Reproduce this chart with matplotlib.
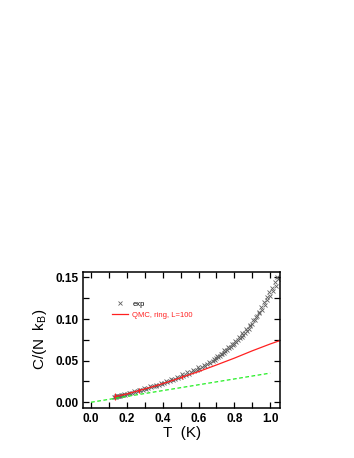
import numpy as np
import matplotlib
matplotlib.use('Agg')
import matplotlib.pyplot as plt
from matplotlib.ticker import MultipleLocator, FormatStrFormatter

plt.rcParams['font.family'] = ['Liberation Sans', 'DejaVu Sans']

T_exp = [0.130, 0.135, 0.140, 0.145, 0.150, 0.155, 0.160, 0.170, 0.180, 0.190,
         0.200, 0.215, 0.230, 0.245, 0.260, 0.275, 0.290, 0.305, 0.320, 0.335,
         0.350, 0.365, 0.380, 0.395, 0.410, 0.425, 0.440, 0.455, 0.470, 0.485,
         0.500, 0.515, 0.530, 0.545, 0.560, 0.575, 0.590, 0.605, 0.620, 0.635,
         0.650, 0.665, 0.680, 0.690, 0.700, 0.710, 0.720, 0.730, 0.740, 0.750,
         0.760, 0.770, 0.780, 0.790, 0.800, 0.810, 0.820, 0.830, 0.840, 0.850,
         0.860, 0.870, 0.880, 0.890, 0.900, 0.915, 0.925, 0.940, 0.955, 0.970,
         0.985, 1.000, 1.015, 1.030, 1.045,
         # second, scattered run
         0.138, 0.148, 0.165, 0.185, 0.210, 0.240, 0.268, 0.298, 0.330, 0.360,
         0.390, 0.420, 0.448, 0.478, 0.508, 0.538, 0.568, 0.598, 0.628, 0.658,
         0.685, 0.705, 0.725, 0.745, 0.765, 0.785, 0.805, 0.825, 0.845, 0.865,
         0.885, 0.905, 0.920, 0.935, 0.950, 0.965, 0.980, 0.995, 1.010, 1.025,
         1.040]
C_exp = [0.0062, 0.0068, 0.0066, 0.0072, 0.0074, 0.0071, 0.0078, 0.0082, 0.0088, 0.0093,
         0.0099, 0.0107, 0.0116, 0.0124, 0.0134, 0.0142, 0.0152, 0.0160, 0.0171, 0.0180,
         0.0192, 0.0201, 0.0213, 0.0222, 0.0236, 0.0246, 0.0258, 0.0268, 0.0282, 0.0293,
         0.0306, 0.0318, 0.0331, 0.0345, 0.0358, 0.0372, 0.0387, 0.0402, 0.0420, 0.0437,
         0.0456, 0.0477, 0.0498, 0.0512, 0.0530, 0.0545, 0.0560, 0.0578, 0.0594, 0.0612,
         0.0630, 0.0648, 0.0665, 0.0686, 0.0705, 0.0724, 0.0745, 0.0768, 0.0790, 0.0812,
         0.0836, 0.0860, 0.0885, 0.0912, 0.0945, 0.0990, 0.1040, 0.1070, 0.1110, 0.1170,
         0.1225, 0.1280, 0.1340, 0.1400, 0.1480,
         0.0075, 0.0080, 0.0085, 0.0096, 0.0115, 0.0135, 0.0150, 0.0172, 0.0190, 0.0212,
         0.0235, 0.0260, 0.0285, 0.0308, 0.0334, 0.0360, 0.0390, 0.0418, 0.0450, 0.0482,
         0.0520, 0.0550, 0.0585, 0.0622, 0.0660, 0.0700, 0.0740, 0.0785, 0.0830, 0.0878,
         0.0930, 0.0985, 0.1020, 0.1085, 0.1140, 0.1200, 0.1260, 0.1320, 0.1370, 0.1440,
         0.1510]

# QMC ring L=100
T_qmc = [0.13, 0.20, 0.27, 0.35, 0.45, 0.53, 0.60, 0.70, 0.80, 0.90, 1.00, 1.056]
C_qmc = [0.0065, 0.0100, 0.0142, 0.0190, 0.0258, 0.0318, 0.0368, 0.0448, 0.0530, 0.0618, 0.0700, 0.0742]

# QMC points with error bars
T_err = [0.135, 0.27, 0.51]
C_err = [0.0067, 0.0142, 0.0303]
E_err = [0.004, 0.003, 0.002]

# green dashed line
T_lin = [0.0, 1.0]
C_lin = [0.0, 0.035]

fig = plt.figure(figsize=(3.54, 4.58), dpi=100)
ax = fig.add_axes([0.2345, 0.109, 0.557, 0.298])

ax.plot(T_exp, C_exp, 'x', color='#606060', ms=3.2, mew=0.6, label='exp')
ax.plot(T_qmc, C_qmc, '-', color='#ff2020', lw=0.9, label='QMC, ring, L=100')
ax.errorbar(T_err, C_err, yerr=E_err, fmt='none', ecolor='#ff2020', elinewidth=0.8)
ax.plot(T_lin, C_lin, '--', color='#22ee22', lw=0.9, dashes=(3, 2))

ax.set_xlim(-0.045, 1.056)
ax.set_ylim(-0.007, 0.157)
ax.xaxis.set_major_locator(MultipleLocator(0.2))
ax.xaxis.set_minor_locator(MultipleLocator(0.1))
ax.yaxis.set_major_locator(MultipleLocator(0.05))
ax.yaxis.set_minor_locator(MultipleLocator(0.025))
ax.xaxis.set_major_formatter(FormatStrFormatter('%.1f'))
ax.yaxis.set_major_formatter(FormatStrFormatter('%.2f'))
ax.tick_params(which='both', direction='in', top=True, right=True, width=0.9, labelsize=8.5)
ax.tick_params(which='both', length=4)
for lbl in ax.get_xticklabels() + ax.get_yticklabels():
    lbl.set_fontweight('bold')
for s in ax.spines.values():
    s.set_linewidth(1.1)

ax.set_xlabel('T  (K)', fontsize=11, labelpad=1)
ax.set_ylabel('C/(N  k$_\\mathregular{B}$)', fontsize=11, labelpad=4)

leg = ax.legend(loc='upper left', bbox_to_anchor=(0.11, 0.84), frameon=False,
                fontsize=5.5, handlelength=2.2, handletextpad=0.5, labelspacing=0.5)
for t, h in zip(leg.get_texts(), ['black', '#ff2020']):
    t.set_color(h)

fig.savefig('out.png', dpi=100)
